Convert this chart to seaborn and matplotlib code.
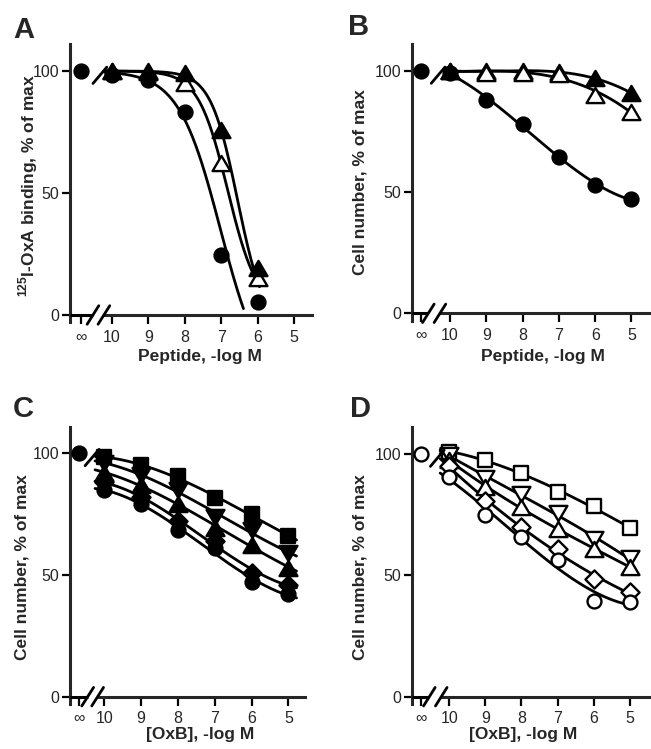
import numpy as np
import matplotlib
matplotlib.use('Agg')
import matplotlib.pyplot as plt
from matplotlib.path import Path
import seaborn as sns

sns.set_style('ticks')
plt.rcParams['font.family'] = ['Liberation Sans', 'DejaVu Sans']
plt.rcParams['mathtext.fontset'] = 'custom'
plt.rcParams['mathtext.rm'] = 'Liberation Sans'
plt.rcParams['mathtext.bf'] = 'Liberation Sans:bold'

# ---- data ----
log_m = [10, 9, 8, 7, 6, 5]
tick_labels = ['\u221e', '10', '9', '8', '7', '6', '5']
control_value = 100   # the "infinity" (no peptide) point

# panel A: 125I-OxA binding (points only down to 6)
a_x = [10, 9, 8, 7, 6]
a_circle = [98.5, 96.3, 83.3, 24.6, 5.5]
a_tri_filled = [100, 100, 99, 75.8, 19.1]
a_tri_open = [100, 99.5, 95, 62.2, 15]
# sigmoid fit parameters for panel A curves (circle, filled tri, open tri)
a_fit_top = [100, 100, 100]
a_fit_bottom = [-30, -6, 2]
a_fit_x50 = [7.02, 6.55, 6.82]
a_fit_hill = [0.755, 1.17, 1.07]

# panel B: cell number vs peptide
b_circle = [99, 88, 78, 64.6, 53, 47]
b_tri_filled = [100, 100, 100, 99.5, 97, 90.8]
b_tri_open = [100, 99.3, 99.3, 98.8, 90.1, 83.2]

# panel C: cell number vs OxB (filled symbols)
c_square = [98.5, 95, 90.5, 81.5, 75, 66]
c_tri_down = [96, 91, 85, 74, 68.5, 59]
c_tri_up = [92, 87, 79, 69.5, 62.5, 53]
c_diamond = [88, 82, 72, 64, 51, 46]
c_circle = [85, 79, 68.5, 61, 47, 42]

# panel D: cell number vs OxB (open symbols)
d_square = [101, 97.5, 92, 84.5, 78.5, 69.5]
d_tri_down = [99.5, 90, 83.5, 75.5, 65, 57]
d_tri_up = [97.5, 86.5, 78, 69, 61, 53.5]
d_diamond = [95, 80.5, 70, 61, 48.5, 43]
d_circle = [90.5, 75, 66, 56.3, 39.5, 39]

# ---- layout ----
W, H = 651, 749
fig = plt.figure(figsize=(W / 100, H / 100), dpi=100)

TRI_UP = Path([(0, 0.85), (-1, -0.85), (1, -0.85), (0, 0.85)], closed=True)
TRI_DOWN = Path([(0, -0.85), (-1, 0.85), (1, 0.85), (0, -0.85)], closed=True)
MARK = {'o': ('o', 100), 's': ('s', 105), '^': (TRI_UP, 165), 'v': (TRI_DOWN, 165), 'D': ('D', 85)}
LW = 2.0
SPINE = 2.2
YLIM = (-3, 111)


def add_panel(px_left, px_right, px_top, px_bottom, xlim):
    ax = fig.add_axes([px_left / W, 1 - px_bottom / H,
                       (px_right - px_left) / W, (px_bottom - px_top) / H])
    ax.set_xlim(*xlim)
    ax.set_ylim(*YLIM)
    return ax


def points(ax, xs, ys, m, filled=True):
    marker, s = MARK[m]
    sns.scatterplot(x=xs, y=ys, marker=marker, s=s, color='black' if filled else 'white',
                    edgecolor='black', linewidth=1.7, zorder=4, clip_on=False,
                    legend=False, ax=ax)


def curve(ax, xs, ys):
    sns.lineplot(x=xs, y=ys, color='black', lw=LW, sort=False, estimator=None,
                 zorder=3, ax=ax)


def poly_curve(ax, ys, span):
    coef = np.polyfit(log_m, ys, 3)
    xc = np.linspace(span[0], span[1], 200)
    curve(ax, xc, np.polyval(coef, xc))


def decorate(ax, xlim, inf_pos, brk, xlabel, ylabel, letter, letter_px,
             xlabel_px, ylabel_px):
    for s in ['top', 'right']:
        ax.spines[s].set_visible(False)
    ax.spines['left'].set_linewidth(SPINE)
    ax.spines['bottom'].set_linewidth(SPINE)
    ax.spines['bottom'].set_position(('data', 0))
    ax.spines['bottom'].set_bounds(brk[1], xlim[1])
    # left piece of the broken x axis
    ax.plot([xlim[0], brk[0]], [0, 0], color='black', lw=SPINE,
            solid_capstyle='butt', clip_on=False, zorder=5)
    for b in brk:
        ax.plot([b + 0.16, b - 0.16], [-3.8, 3.8], color='black', lw=LW,
                clip_on=False, zorder=5)
    # break mark on the data level
    ax.plot([10.52, 10.14], [94.9, 101.6], color='black', lw=LW,
            clip_on=False, zorder=5)

    ax.set_xticks([inf_pos] + log_m)
    ax.set_xticklabels(tick_labels)
    ax.get_xticklabels()[0].set_fontsize(8)
    ax.set_yticks([0, 50, 100])
    ax.tick_params(axis='x', direction='out', length=6.5, width=1.6,
                   labelsize=11.5, pad=4, color='black')
    ax.tick_params(axis='y', direction='out', length=5.5, width=1.6,
                   labelsize=11.5, pad=2, color='black')
    ax.grid(False)

    ax.set_xlabel(xlabel, fontsize=12.5, fontweight='bold', va='center')
    ax.xaxis.set_label_coords(xlabel_px[0] / W, 1 - xlabel_px[1] / H,
                              transform=fig.transFigure)
    ax.set_ylabel(ylabel, fontsize=12.5, fontweight='bold', va='center')
    ax.yaxis.set_label_coords(ylabel_px[0] / W, 1 - ylabel_px[1] / H,
                              transform=fig.transFigure)
    fig.text(letter_px[0] / W, 1 - letter_px[1] / H, letter, fontsize=21,
             fontweight='bold', ha='left', va='baseline')


# ---- panel A ----
xlim_a = (11.15, 4.51)
ax = add_panel(70, 312, 44.2, 322.3, xlim_a)
inf_a = 10.85
span_a = np.linspace(10.2, 5.95, 300)
for top, bot, x50, h in zip(a_fit_top, a_fit_bottom, a_fit_x50, a_fit_hill):
    yc = bot + (top - bot) / (1 + 10 ** (h * (x50 - span_a)))
    keep = yc >= 2.5
    curve(ax, span_a[keep], yc[keep])
points(ax, a_x, a_tri_open, '^', filled=False)
points(ax, a_x, a_tri_filled, '^')
points(ax, a_x, a_circle, 'o')
points(ax, [inf_a], [control_value], 'o')
decorate(ax, xlim_a, inf_a, (10.52, 10.22), 'Peptide, -log M',
         r'$^{\mathbf{125}}$I-OxA binding, % of max', 'A', (13, 38),
         (199.5, 357), (28, 186))

# ---- panel B ----
xlim_b = (11.05, 4.49)
ax = add_panel(412, 650, 44.3, 320.6, xlim_b)
inf_b = 10.8
for ys in [b_tri_open, b_tri_filled, b_circle]:
    poly_curve(ax, ys, (10.1, 5.0))
points(ax, log_m, b_tri_filled, '^')
points(ax, log_m, b_tri_open, '^', filled=False)
points(ax, log_m, b_circle, 'o')
points(ax, [inf_b], [control_value], 'o')
decorate(ax, xlim_b, inf_b, (10.6, 10.28), 'Peptide, -log M',
         'Cell number, % of max', 'B', (348, 35), (542.5, 357), (360, 182))

# ---- panel C ----
xlim_c = (10.93, 4.55)
ax = add_panel(70, 305, 426.5, 704, xlim_c)
inf_c = 10.68
c_series = [(c_square, 's'), (c_tri_down, 'v'), (c_tri_up, '^'),
            (c_diamond, 'D'), (c_circle, 'o')]
for ys, m in c_series:
    poly_curve(ax, ys, (10.25, 4.78))
for ys, m in c_series:
    points(ax, log_m, ys, m)
points(ax, [inf_c], [control_value], 'o')
decorate(ax, xlim_c, inf_c, (10.45, 10.18), '[OxB], -log M',
         'Cell number, % of max', 'C', (13, 416.7), (200, 734), (22, 567))

# ---- panel D ----
xlim_d = (11.03, 4.44)
ax = add_panel(412, 650, 427.3, 704, xlim_d)
inf_d = 10.78
d_series = [(d_square, 's'), (d_tri_down, 'v'), (d_tri_up, '^'),
            (d_diamond, 'D'), (d_circle, 'o')]
for ys, m in d_series:
    poly_curve(ax, ys, (10.25, 5.0))
for ys, m in d_series:
    points(ax, log_m, ys, m, filled=False)
points(ax, [inf_d], [control_value], 'o', filled=False)
decorate(ax, xlim_d, inf_d, (10.55, 10.22), '[OxB], -log M',
         'Cell number, % of max', 'D', (350, 416.7), (523.5, 734), (360.5, 567))

fig.savefig('out.png', dpi=100, facecolor='white')
